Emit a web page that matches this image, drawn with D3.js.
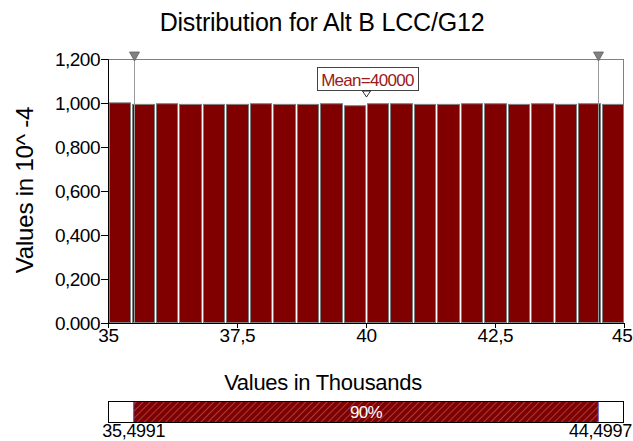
<!DOCTYPE html>
<html><head><meta charset="utf-8">
<script src="https://cdn.jsdelivr.net/npm/d3@7"></script>
<style>body{margin:0;background:#fff;overflow:hidden} text{font-family:"Liberation Sans",Arial,sans-serif}</style>
</head><body><svg id="c" width="633" height="441"></svg>
<script>
const titleText = "Distribution for Alt B LCC/G12";
const xTitle = "Values in Thousands";
const yTitle = "Values in 10^ -4";
const binStart = 35, binEnd = 45;
const densities = [1.003,0.996,0.999,0.996,0.996,0.996,0.999,0.996,0.996,0.999,0.990,0.999,0.999,0.996,0.996,0.999,0.999,0.996,0.999,0.996,0.999,0.996];
const yTicks = [0,0.2,0.4,0.6,0.8,1.0,1.2];
const yTickLabels = ["0.000","0,200","0,400","0,600","0,800","1,000","1,200"];
const xTicks = [35,37.5,40,42.5,45];
const xTickLabels = ["35","37,5","40","42,5","45"];
const meanValue = 40000;
const meanLabel = "Mean=40000";
const lowerPct = 35.4991, upperPct = 44.4997;
const lowerLabel = "35,4991", upperLabel = "44,4997";
const pctLabel = "90%";

const svg = d3.select("#c");
const x = d3.scaleLinear().domain([binStart, binEnd]).range([108, 624]);
const y = d3.scaleLinear().domain([0, 1.2]).range([323, 59]);
const nb = densities.length, bw = (binEnd - binStart) / nb;

// hatch pattern
const defs = svg.append("defs");
const pat = defs.append("pattern").attr("id","hatch").attr("patternUnits","userSpaceOnUse")
  .attr("width",5).attr("height",5).attr("patternTransform","rotate(45)");
pat.append("rect").attr("width",5).attr("height",5).attr("fill","#800000");
pat.append("line").attr("x1",0).attr("y1",0).attr("x2",0).attr("y2",5).attr("stroke","#c08080").attr("stroke-width",1);

// title
svg.append("text").attr("x",322).attr("y",31).attr("text-anchor","middle")
  .attr("font-size",25).attr("letter-spacing",-0.2).attr("fill","#000").text(titleText);

// plot frame (top/right gray)
svg.append("line").attr("x1",108).attr("x2",624).attr("y1",59.5).attr("y2",59.5).attr("stroke","#808080");
svg.append("line").attr("x1",623.5).attr("x2",623.5).attr("y1",59).attr("y2",323).attr("stroke","#808080");

// bars
svg.append("g").selectAll("rect").data(densities).join("rect")
  .attr("x",(d,i)=>Math.round(x(binStart+i*bw))+1.5)
  .attr("width",(d,i)=>Math.round(x(binStart+(i+1)*bw))-Math.round(x(binStart+i*bw))-2)
  .attr("y",d=>y(d)+0.5)
  .attr("height",d=>y(0)-y(d)-1)
  .attr("fill","#800000").attr("stroke","#7f7f7f").attr("stroke-width",1);

// marker lines
[lowerPct, upperPct].forEach(v=>{
  const xv = Math.round(x(v))+0.5;
  svg.append("line").attr("x1",xv).attr("x2",xv).attr("y1",59).attr("y2",323).attr("stroke","#9a9a9a").attr("stroke-width",1);
  svg.append("path").attr("d",`M${xv-5},52 L${xv+5},52 L${xv},61 Z`).attr("fill","#808080").attr("stroke","#606060").attr("stroke-width",0.8);
});

// axes
const yAxis = svg.append("g").attr("transform","translate(108,0)")
  .call(d3.axisLeft(y).tickValues(yTicks).tickFormat((d,i)=>yTickLabels[i]).tickSize(7).tickPadding(1));
yAxis.select(".domain").attr("stroke","#000");
yAxis.selectAll("text").attr("font-size",19).attr("letter-spacing",-0.5).attr("font-family","Liberation Sans, Arial, sans-serif").attr("fill","#000");
const xAxis = svg.append("g").attr("transform","translate(0,323)")
  .call(d3.axisBottom(x).tickValues(xTicks).tickFormat((d,i)=>xTickLabels[i]).tickSize(5).tickPadding(1));
xAxis.select(".domain").attr("stroke","#000");
xAxis.selectAll("text").attr("font-size",19).attr("letter-spacing",-0.3).attr("font-family","Liberation Sans, Arial, sans-serif").attr("fill","#000");
// keep the last tick label inside the window
xAxis.selectAll(".tick").filter(d=>d===binEnd).select("text").attr("text-anchor","end").attr("x",8);

// axis titles
svg.append("text").attr("transform","translate(33,190) rotate(-90)").attr("text-anchor","middle")
  .attr("font-size",24).attr("letter-spacing",-0.2).attr("fill","#000").text(yTitle);
svg.append("text").attr("x",323).attr("y",390).attr("text-anchor","middle")
  .attr("font-size",22).attr("letter-spacing",-0.3).attr("fill","#000").text(xTitle);

// mean label
const mx = Math.round(x(meanValue/1000))+0.5;
svg.append("rect").attr("x",317.5).attr("y",67.5).attr("width",101).attr("height",23).attr("fill","#fff").attr("stroke","#444");
svg.append("text").attr("x",367.5).attr("y",85.5).attr("text-anchor","middle").attr("font-size",17)
  .attr("letter-spacing",-0.7).attr("fill","#9a1a1a").text(meanLabel);
svg.append("path").attr("d",`M${mx-4},91 L${mx+4},91 L${mx},97 Z`).attr("fill","#fff").attr("stroke","#000").attr("stroke-width",0.8);

// percentile bar
svg.append("rect").attr("x",108.5).attr("y",401.5).attr("width",515).attr("height",21).attr("fill","#fff").attr("stroke","#000");
svg.append("rect").attr("x",x(lowerPct)).attr("y",402).attr("width",x(upperPct)-x(lowerPct)).attr("height",20).attr("fill","url(#hatch)");
[lowerPct, upperPct].forEach(v=>{
  svg.append("line").attr("x1",x(v)).attr("x2",x(v)).attr("y1",402).attr("y2",422).attr("stroke","#4040c0").attr("stroke-width",1);
});
svg.append("text").attr("x",(x(lowerPct)+x(upperPct))/2).attr("y",418).attr("text-anchor","middle")
  .attr("font-size",17).attr("letter-spacing",-0.7).attr("fill","#fff").text(pctLabel);
svg.append("text").attr("x",x(lowerPct)).attr("y",437).attr("text-anchor","middle").attr("font-size",18).attr("letter-spacing",-0.3).attr("fill","#000").text(lowerLabel);
svg.append("text").attr("x",632).attr("y",437).attr("text-anchor","end").attr("font-size",18).attr("letter-spacing",-0.3).attr("fill","#000").text(upperLabel);
</script></body></html>
